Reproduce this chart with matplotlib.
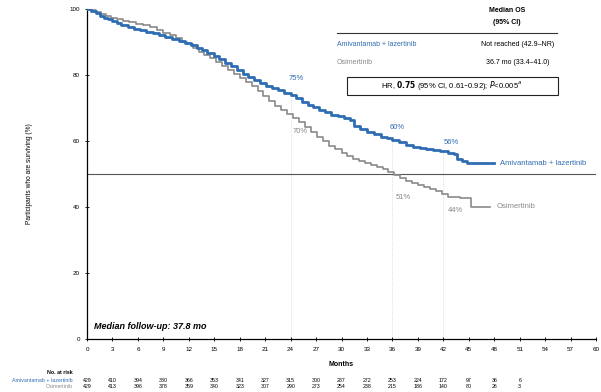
import matplotlib
matplotlib.use("Agg")
import matplotlib.pyplot as plt

plt.rcParams['font.family'] = ['Liberation Sans', 'DejaVu Sans']

BLUE = '#2f6db3'
GREY = '#8a8a8a'

# survival curves (months, % surviving)
ami_t = [0, 0.5, 1, 1.5, 2, 2.5, 3, 3.5, 4, 4.8, 5.5, 6.2, 7, 7.8, 8.5, 9.2, 10, 10.8, 11.5,
         12.2, 13, 13.6, 14.2, 15, 15.6, 16.3, 17, 17.7, 18.4, 19, 19.7, 20.4, 21.1, 21.8,
         22.5, 23.2, 24, 24.6, 25.3, 26, 26.6, 27.3, 28, 28.8, 29.6, 30.3, 31, 31.5, 32.2,
         33, 33.8, 34.6, 35.3, 36, 36.8, 37.6, 38.4, 39.2, 40, 40.8, 41.6, 42.5, 43.2, 43.6,
         44.2, 44.8, 48]
ami_s = [100, 99.5, 98.8, 98.0, 97.3, 96.8, 96.2, 95.6, 95.1, 94.6, 94.0, 93.6, 93.1, 92.6,
         92.1, 91.6, 91.0, 90.4, 89.8, 89.1, 88.2, 87.5, 86.6, 85.6, 84.8, 83.7, 82.6, 81.4,
         80.3, 79.3, 78.4, 77.6, 76.8, 76.1, 75.3, 74.6, 73.8, 72.9, 71.9, 71.0, 70.2, 69.4,
         68.7, 68.0, 67.5, 67.0, 66.3, 64.5, 63.6, 62.8, 62.0, 61.3, 60.8, 60.3, 59.6, 58.8,
         58.3, 57.9, 57.5, 57.2, 56.9, 56.5, 56.2, 54.4, 53.9, 53.3, 53.3]
osi_t = [0, 0.5, 1, 1.6, 2.2, 2.8, 3.5, 4.2, 5, 5.8, 6.6, 7.4, 8.2, 9, 9.8, 10.5, 11.2, 11.8,
         12.5, 13.2, 13.8, 14.5, 15.2, 15.9, 16.6, 17.3, 18, 18.7, 19.4, 20.1, 20.8, 21.5,
         22.2, 22.9, 23.6, 24.3, 25, 25.7, 26.4, 27.1, 27.8, 28.5, 29.2, 30, 30.7, 31.4,
         32.1, 32.8, 33.5, 34.2, 34.9, 35.5, 36.2, 36.9, 37.6, 38.3, 39, 39.7, 40.4, 41.1,
         41.8, 42.5, 43.3, 44, 44.8, 45.2, 47.5]
osi_s = [100, 99.7, 99.2, 98.6, 98.0, 97.4, 96.8, 96.3, 95.9, 95.5, 95.1, 94.4, 93.6, 92.8,
         92.0, 91.1, 90.1, 89.3, 88.3, 87.1, 86.1, 85.0, 83.9, 82.7, 81.5, 80.3, 79.1, 77.8,
         76.7, 75.1, 73.5, 72.0, 70.6, 69.3, 68.1, 67.0, 65.6, 64.1, 62.7, 61.3, 59.9, 58.6,
         57.5, 56.4, 55.4, 54.6, 53.9, 53.2, 52.6, 52.1, 51.5, 50.6, 49.6, 48.8, 48.0, 47.3,
         46.6, 46.0, 45.5, 44.8, 43.9, 43.1, 42.9, 42.7, 42.7, 40.1, 40.1]

# landmark rates
landmarks = [24, 36, 42]
ami_rates = ['75%', '60%', '56%']
osi_rates = ['70%', '51%', '44%']

# numbers at risk
risk_months = list(range(0, 54, 3))
ami_risk = [429, 410, 394, 380, 366, 353, 341, 327, 315, 300, 287, 272, 253, 224, 172, 97, 36, 6]
osi_risk = [429, 413, 396, 378, 359, 340, 323, 307, 290, 273, 254, 238, 215, 186, 140, 80, 26, 3]

fig = plt.figure(figsize=(6.01, 3.92), dpi=100)
ax = fig.add_axes([0.1448, 0.1352, 0.847, 0.842])

ax.axhline(50, color='#555555', lw=0.8, zorder=1)
for m, top in zip(landmarks, [74, 61, 57]):
    ax.plot([m, m], [0, top], color='#d0d0d0', lw=0.6, ls=':', zorder=1)

ax.plot(osi_t, osi_s, drawstyle='steps-post', color=GREY, lw=1.2, zorder=3)
ax.plot(ami_t, ami_s, drawstyle='steps-post', color=BLUE, lw=2.0, zorder=4)

# landmark labels
ax.text(24.6, 78.5, ami_rates[0], color=BLUE, fontsize=5.5, ha='center')
ax.text(36.5, 63.5, ami_rates[1], color=BLUE, fontsize=5.5, ha='center')
ax.text(43.0, 59, ami_rates[2], color=BLUE, fontsize=5.5, ha='center')
ax.text(25.1, 62.5, osi_rates[0], color=GREY, fontsize=5.5, ha='center')
ax.text(37.3, 42.5, osi_rates[1], color=GREY, fontsize=5.5, ha='center')
ax.text(43.4, 38.5, osi_rates[2], color=GREY, fontsize=5.5, ha='center')

ax.text(48.7, 53.3, 'Amivantamab + lazertinib', color=BLUE, fontsize=5.5, va='center')
ax.text(48.3, 40, 'Osimertinib', color=GREY, fontsize=5.5, va='center')

ax.text(0.8, 2.5, 'Median follow-up: 37.8 mo', fontsize=6.5, fontweight='bold',
        fontstyle='italic', va='bottom')

ax.set_xlim(0, 60)
ax.set_ylim(0, 100)
ax.set_xticks(range(0, 61, 3))
ax.set_yticks(range(0, 101, 20))
ax.tick_params(labelsize=4.5, direction='inout', length=3, width=0.6)
ax.tick_params(axis='x', pad=4)
for s in ['top', 'right']:
    ax.spines[s].set_visible(False)
for s in ['left', 'bottom']:
    ax.spines[s].set_linewidth(0.9)
ax.set_ylabel('Participants who are surviving (%)', fontsize=4.8, labelpad=26)
ax.set_xlabel('Months', fontsize=5, fontweight='bold', labelpad=7)

# median OS table
fig.text(507 / 601, 1 - 11 / 392, 'Median OS', fontsize=5, fontweight='bold', ha='center', va='center')
fig.text(507 / 601, 1 - 22 / 392, '(95% CI)', fontsize=5, fontweight='bold', ha='center', va='center')
fig.add_artist(plt.Line2D([337 / 601, 557 / 601], [1 - 33 / 392] * 2, color='#333333', lw=0.8))
fig.text(337 / 601, 1 - 45 / 392, 'Amivantamab + lazertinib', fontsize=5, color=BLUE, va='center')
fig.text(518 / 601, 1 - 45 / 392, 'Not reached (42.9–NR)', fontsize=5, ha='center', va='center')
fig.text(337 / 601, 1 - 63 / 392, 'Osimertinib', fontsize=5, color=GREY, va='center')
fig.text(518 / 601, 1 - 63 / 392, '36.7 mo (33.4–41.0)', fontsize=5, ha='center', va='center')
fig.add_artist(plt.Rectangle((347 / 601, 1 - 95 / 392), 211 / 601, 18 / 392, fill=False,
                             ec='#222222', lw=0.8, transform=fig.transFigure))
fig.text(452 / 601, 1 - 86 / 392, r'HR, $\mathbf{0.75}$ (95% CI, 0.61–0.92); $\it{P}$<0.005$^a$',
         fontsize=5.5, ha='center', va='center')

# number at risk
fig.text(73 / 601, 1 - 372 / 392, 'No. at risk', fontsize=3.8, fontweight='bold', ha='right', va='center')
fig.text(73 / 601, 1 - 380 / 392, 'Amivantamab + lazertinib', fontsize=3.8, color=BLUE, ha='right', va='center')
fig.text(73 / 601, 1 - 386 / 392, 'Osimertinib', fontsize=3.8, color=GREY, ha='right', va='center')
for m, a, o in zip(risk_months, ami_risk, osi_risk):
    xf = ax.transData.transform((m, 0))[0] / fig.bbox.width
    fig.text(xf, 1 - 380 / 392, str(a), fontsize=3.8, ha='center', va='center')
    fig.text(xf, 1 - 386 / 392, str(o), fontsize=3.8, ha='center', va='center')

fig.savefig('out.png', dpi=100)
